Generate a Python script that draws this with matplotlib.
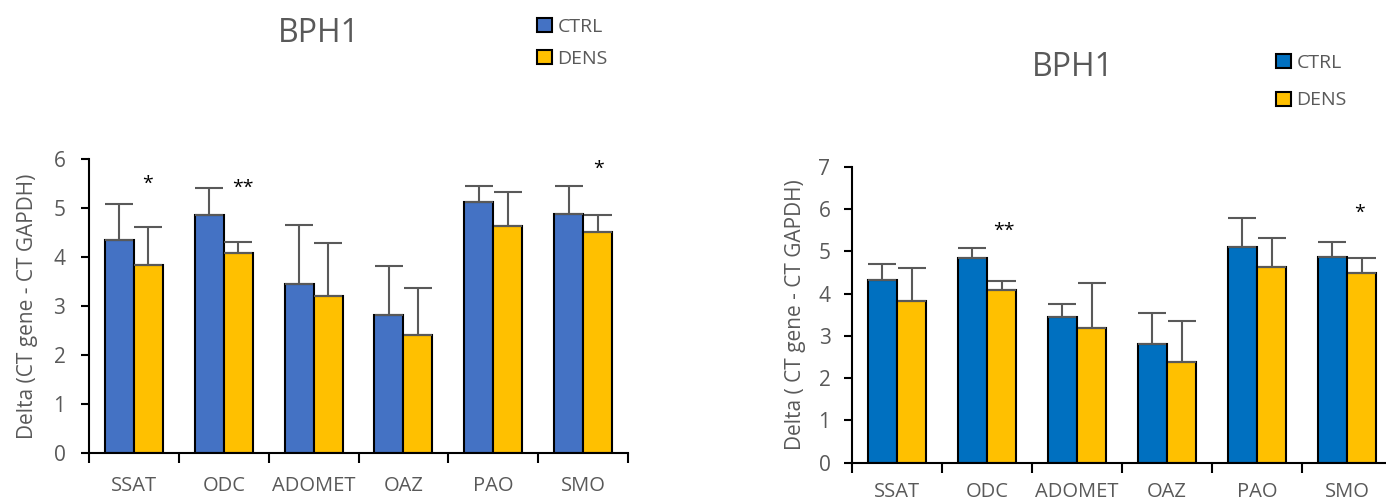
import numpy as np
import matplotlib
matplotlib.use('Agg')
import matplotlib.pyplot as plt
from matplotlib.patches import Patch

plt.rcParams['font.family'] = ['Open Sans', 'DejaVu Sans']

genes = ["SSAT", "ODC", "ADOMET", "OAZ", "PAO", "SMO"]
groups = ["CTRL", "DENS"]

# left panel
left_ctrl = [4.35, 4.87, 3.46, 2.82, 5.13, 4.88]
left_ctrl_err = [0.74, 0.54, 1.19, 1.00, 0.32, 0.58]
left_dens = [3.83, 4.09, 3.20, 2.41, 4.64, 4.51]
left_dens_err = [0.78, 0.22, 1.08, 0.96, 0.69, 0.35]
left_stars = [(0.15, 5.50, "*"), (1.21, 5.41, "**"), (5.17, 5.80, "*")]

# right panel
right_ctrl = [4.33, 4.85, 3.45, 2.80, 5.11, 4.86]
right_ctrl_err = [0.38, 0.23, 0.30, 0.74, 0.68, 0.35]
right_dens = [3.82, 4.08, 3.18, 2.39, 4.63, 4.49]
right_dens_err = [0.78, 0.21, 1.08, 0.96, 0.68, 0.35]
right_stars = [(1.19, 5.49, "**"), (5.14, 5.90, "*")]

GREY = "#595959"
W, H = 1386, 503


def draw_panel(ax, ctrl, ctrl_err, dens, dens_err, stars, colors, ymax, ylabel,
               tickpad, labelpad, xpad):
    x = np.arange(len(genes))
    bw = 0.323
    ekw = dict(ecolor=GREY, elinewidth=1.5, capsize=10, capthick=1.5)
    ax.bar(x - bw / 2, ctrl, bw, color=colors[0], edgecolor="black", linewidth=1.5,
           yerr=[np.zeros(len(ctrl)), ctrl_err], error_kw=ekw, zorder=2)
    ax.bar(x + bw / 2, dens, bw, color=colors[1], edgecolor="black", linewidth=1.5,
           yerr=[np.zeros(len(dens)), dens_err], error_kw=ekw, zorder=2)
    for sx, sy, s in stars:
        ax.text(sx, sy, s, ha="center", va="center", fontsize=14, color="black")

    ax.set_xlim(-0.5, len(genes) - 0.5)
    ax.set_ylim(0, ymax)
    ax.set_xticks(x)
    ax.set_xticklabels(genes)
    ax.set_xticks(np.arange(len(genes) + 1) - 0.5, minor=True)
    ax.tick_params(axis="x", which="major", length=0, pad=xpad, labelsize=14.5, labelcolor=GREY)
    ax.tick_params(axis="x", which="minor", length=7, width=1.5, color="black")
    ax.set_yticks(range(ymax + 1))
    ax.tick_params(axis="y", length=6, width=1.5, color="black", labelsize=15,
                   labelcolor=GREY, pad=tickpad)
    for side in ["top", "right"]:
        ax.spines[side].set_visible(False)
    for side in ["left", "bottom"]:
        ax.spines[side].set_linewidth(1.5)
    ax.set_ylabel(ylabel, fontsize=15, color=GREY, labelpad=labelpad)


fig = plt.figure(figsize=(W / 100, H / 100), dpi=100)

ax1 = fig.add_axes([89 / W, 1 - 452.7 / H, 539 / W, 293.4 / H])
draw_panel(ax1, left_ctrl, left_ctrl_err, left_dens, left_dens_err, left_stars,
           ["#4472C4", "#FFC000"], 6, "Delta (CT gene - CT GAPDH)", 11, 11, 17)

ax2 = fig.add_axes([852 / W, 1 - 462.7 / H, 540 / W, 296 / H])
draw_panel(ax2, right_ctrl, right_ctrl_err, right_dens, right_dens_err, right_stars,
           ["#0070C0", "#FFC000"], 7, "Delta ( CT gene - CT GAPDH)", 9.5, 9, 14)

fig.text(319 / W, 1 - 33 / H, "BPH1", ha="center", va="center", fontsize=23, color=GREY)
fig.text(1073 / W, 1 - 67 / H, "BPH1", ha="center", va="center", fontsize=23, color=GREY)


def add_legend(colors, xy, spacing):
    handles = [Patch(facecolor=c, edgecolor="black", linewidth=1.5) for c in colors]
    leg = fig.legend(handles, groups, loc="upper left", bbox_to_anchor=xy,
                     frameon=False, fontsize=14, handlelength=0.75, handleheight=0.75,
                     handletextpad=0.3, labelspacing=spacing, borderpad=0, borderaxespad=0)
    for t in leg.get_texts():
        t.set_color(GREY)


add_legend(["#4472C4", "#FFC000"], (537 / W, 1 - 18 / H), 0.7)
add_legend(["#0070C0", "#FFC000"], (1276 / W, 1 - 54 / H), 1.0)

fig.savefig("out.png", dpi=100)
